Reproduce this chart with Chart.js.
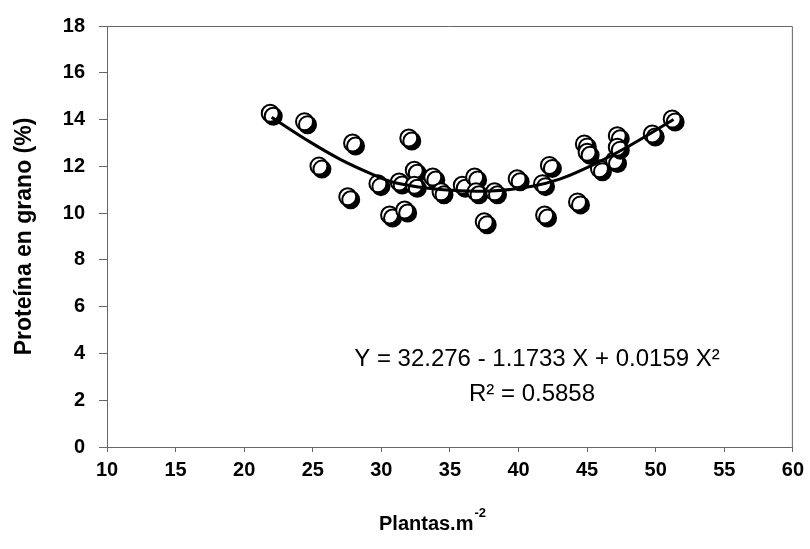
<!DOCTYPE html>
<html>
<head>
<meta charset="utf-8">
<script src="https://cdn.jsdelivr.net/npm/chart.js@4.4.1/dist/chart.umd.min.js"></script>
<style>
body{margin:0;background:#fff;}
</style>
</head>
<body>
<canvas id="grafico" width="810" height="549"></canvas>
<script>
// puntos (plantas por m2 vs proteina %)
const plantas=[21.9,24.4,25.45,27.9,27.55,29.75,30.6,31.7,31.3,32.0,32.4,32.4,33.75,34.35,35.9,36.8,36.9,37.5,38.25,39.9,41.75,42.25,41.9,44.3,44.8,45.0,45.9,47.0,47.2,47.2,49.75,51.2];
const proteina=[14.27,13.91,12.01,13.0,10.7,11.26,9.92,10.13,11.33,13.21,11.83,11.19,11.54,10.91,11.19,11.54,10.91,9.63,10.91,11.47,11.26,12.04,9.92,10.48,12.96,12.6,11.9,12.25,13.31,12.82,13.38,14.02];

// linea de tendencia
const curvaX=[22,24.5,27,29.4,31,34.5,38,41,43,45.2,48,51.3];
const curvaY=[14.1,13.15,12.3,11.65,11.3,11.0,10.95,11.15,11.45,12.0,12.85,14.0];

const ticksX=[10,15,20,25,30,35,40,45,50,55,60];
const ticksY=[0,2,4,6,8,10,12,14,16,18];

const ecuacion="Y = 32.276 - 1.1733 X + 0.0159 X²";
const r2="R² = 0.5858";
const tituloY="Proteína en grano (%)";
const tituloX="Plantas.m";
const tituloXsup="-2";

const fuente="'Liberation Sans', Arial, sans-serif";

const sombra={
id:"sombra",
beforeDatasetDraw(chart,args){
if(args.index!==1)return;
const ctx=chart.ctx;
ctx.save();
ctx.shadowColor="#000";
ctx.shadowOffsetX=3;
ctx.shadowOffsetY=3;
ctx.shadowBlur=0;
},
afterDatasetDraw(chart,args){
if(args.index!==1)return;
chart.ctx.restore();
}
};

const textos={
id:"textos",
beforeDatasetsDraw(chart){
const ctx=chart.ctx;
const a=chart.chartArea;
ctx.save();
ctx.strokeStyle="#666";
ctx.lineWidth=1;
ctx.beginPath();
ctx.moveTo(a.left,a.top+0.5);
ctx.lineTo(a.right-0.5,a.top+0.5);
ctx.lineTo(a.right-0.5,a.bottom);
ctx.stroke();
ctx.restore();
},
afterDraw(chart){
const ctx=chart.ctx;
ctx.save();
ctx.fillStyle="#000";
ctx.textBaseline="alphabetic";
ctx.textAlign="center";
ctx.font="24px "+fuente;
ctx.fillText(ecuacion,537,366);
ctx.fillText(r2,532,401);

// titulo eje x con superindice
ctx.font="bold 20px "+fuente;
const w1=ctx.measureText(tituloX).width;
ctx.font="bold 13px "+fuente;
const w2=ctx.measureText(tituloXsup).width;
let x0=432-(w1+w2)/2;
ctx.textAlign="left";
ctx.font="bold 20px "+fuente;
ctx.fillText(tituloX,x0,530);
ctx.font="bold 13px "+fuente;
ctx.fillText(tituloXsup,x0+w1+1,517);
ctx.restore();
}
};

new Chart(
document.getElementById("grafico"),
{
type:"scatter",
data:{
datasets:[
{
type:"line",
label:"Tendencia",
data:curvaX.map((x,i)=>({x:x,y:curvaY[i]})),
borderColor:"#000",
borderWidth:3,
pointRadius:0,
tension:0.4,
fill:false,
order:0
},
{
label:"Proteína",
data:plantas.map((x,i)=>({x:x,y:proteina[i]})),
backgroundColor:"#fff",
borderColor:"#000",
borderWidth:2,
pointRadius:8.5,
order:1
}
]
},
plugins:[sombra,textos],
options:{
responsive:false,
animation:false,
layout:{
padding:{top:23,right:16,left:0,bottom:0}
},
plugins:{
legend:{display:false},
tooltip:{enabled:false}
},
scales:{
x:{
type:"linear",
min:10,
max:60,
afterBuildTicks(s){s.ticks=ticksX.map(v=>({value:v}));},
afterFit(s){s.height=102;},
border:{color:"#666",width:1},
grid:{drawOnChartArea:false,color:"#666",tickLength:5},
ticks:{
color:"#000",
padding:6,
maxRotation:0,
font:{family:fuente,size:20,weight:"bold"}
}
},
y:{
min:0,
max:18,
afterBuildTicks(s){s.ticks=ticksY.map(v=>({value:v}));},
afterFit(s){s.width=107;},
border:{color:"#666",width:1},
grid:{drawOnChartArea:false,color:"#666",tickLength:8},
ticks:{
color:"#000",
padding:14,
font:{family:fuente,size:20,weight:"bold"}
},
title:{
display:true,
text:tituloY,
color:"#000",
padding:{top:11,bottom:0},
font:{family:fuente,size:23,weight:"bold"}
}
}
}
}
}
);
</script>
</body>
</html>
